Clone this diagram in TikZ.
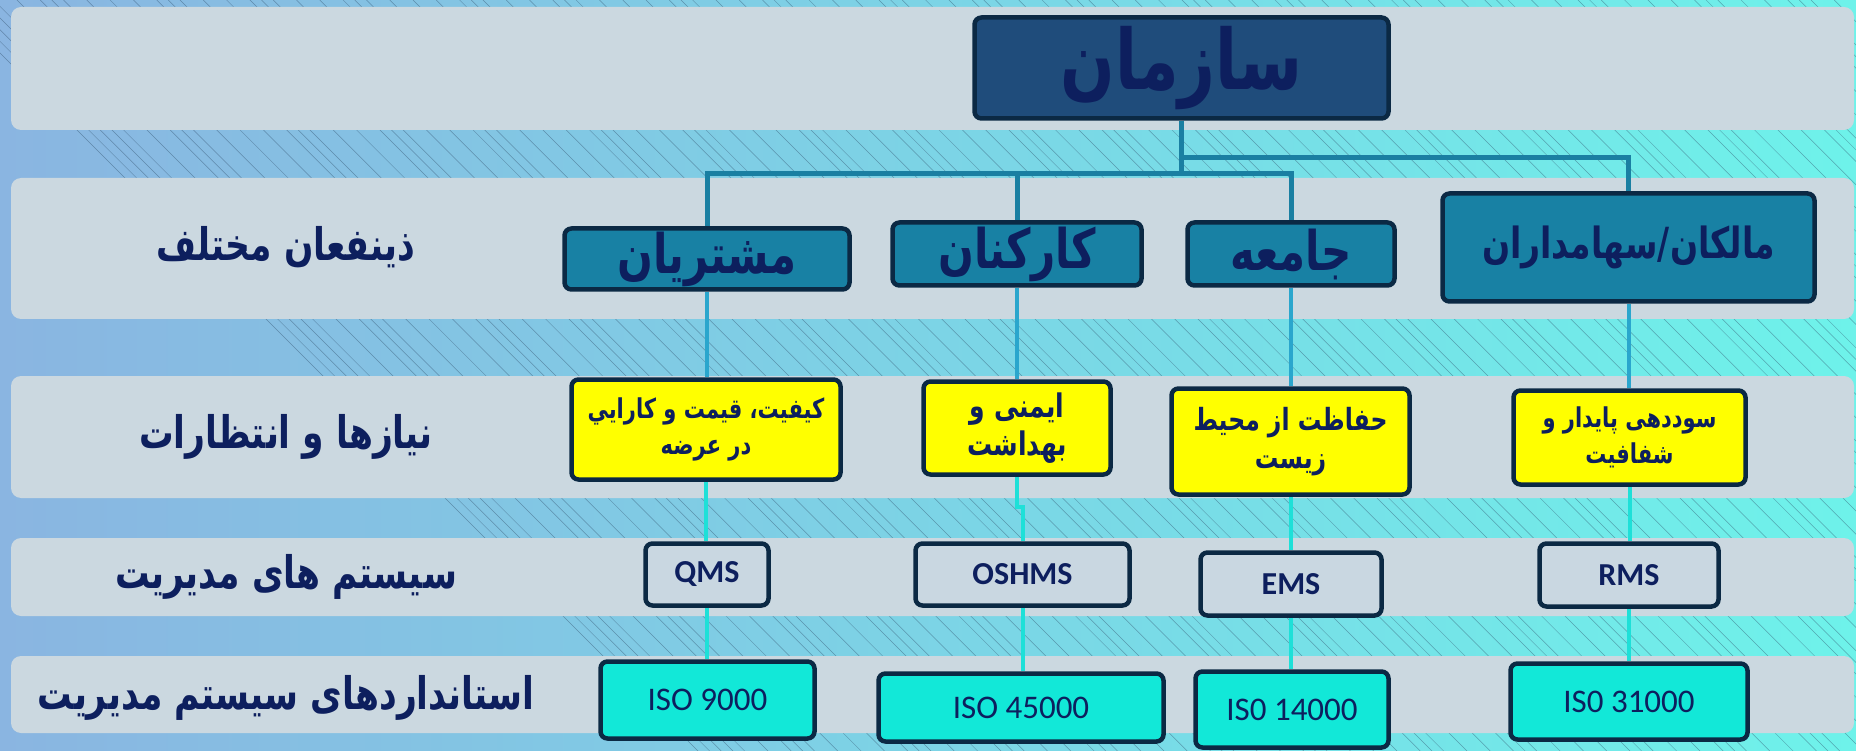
\documentclass[tikz,border=0pt]{standalone}
\usepackage{fontspec}
\usepackage{graphicx}
\TeXXeTstate=1
\newfontfamily\fafont[Script=Arabic]{DejaVu Sans}
\newfontfamily\latfont{Carlito}
% right-to-left run, set a little taller than the font's natural shape
\newcommand\rtltext[1]{\scalebox{1}[1.3]{\beginR #1\endR}}

\definecolor{bgleft}{HTML}{8AB5E1}
\definecolor{bgright}{HTML}{6EF2EA}
\definecolor{bandc}{HTML}{CBD8E0}
\definecolor{edgec}{HTML}{0B2944}
\definecolor{navyc}{HTML}{0D1F5E}
\definecolor{orgc}{HTML}{1F4C7B}
\definecolor{stakec}{HTML}{1881A4}
\definecolor{needc}{HTML}{FFFF00}
\definecolor{sysc}{HTML}{C9D7E1}
\definecolor{isoc}{HTML}{12E8D8}
\definecolor{toplink}{HTML}{1A7FA2}
\definecolor{midlink}{HTML}{2AA6CD}
\definecolor{lowlink}{HTML}{1EE0D8}
\definecolor{hatchc}{HTML}{2E4A66}

\pgfdeclarelayer{backdrop}
\pgfdeclarelayer{links}
\pgfsetlayers{backdrop,links,main}

\tikzset{
  band/.style={fill=bandc, rounded corners=10pt},
  hatch/.style={draw=hatchc, line width=0.5pt, opacity=0.45},
  box/.style={draw=edgec, line width=4.5pt, rounded corners=7pt, inner sep=0pt, text=navyc},
  orgbox/.style={box, fill=orgc, font=\fafont\bfseries\fontsize{64}{76}\selectfont},
  stakebox/.style={box, fill=stakec, font=\fafont\bfseries\fontsize{42}{50}\selectfont},
  needbox/.style={box, fill=needc, align=center, font=\fafont\bfseries\fontsize{21}{36}\selectfont},
  sysbox/.style={box, fill=sysc, font=\latfont\bfseries\fontsize{32}{38}\selectfont},
  isobox/.style={box, fill=isoc, font=\latfont\fontsize{33}{38}\selectfont},
  rowlabel/.style={text=navyc, font=\fafont\bfseries\fontsize{34.5}{40}\selectfont},
  toplinkst/.style={draw=toplink, line width=5pt},
  midlinkst/.style={draw=midlink, line width=4pt},
  lowlinkst/.style={draw=lowlink, line width=4pt},
}

\begin{document}
\begin{tikzpicture}[x=1pt,y=-1pt]
\useasboundingbox (0,0) rectangle (1856,751);

\begin{pgfonlayer}{backdrop}
% background with diagonal hatching
\shade[left color=bgleft, right color=bgright] (0,0) rectangle (1856,751);
\begin{scope}
  \clip (0,0) rectangle (1856,751);
  \foreach \i in {0,...,82}{
    \pgfmathsetmacro\c{-53+23.3*\i}
    \draw[hatch] (\c,0) -- ++(751,751);
  }
  \foreach \i in {0,1,4,9,13,17,22,26,31,35,40,44,48,53,57,62,66,70,75,79}{
    \pgfmathsetmacro\c{-53+11.6+23.3*\i}
    \draw[hatch] (\c,0) -- ++(751,751);
  }
\end{scope}

% horizontal bands
\fill[band] (11,7) rectangle (1854,130);
\fill[band] (11,178) rectangle (1854,319);
\fill[band] (11,376) rectangle (1854,498);
\fill[band] (11,538) rectangle (1854,616);
\fill[band] (11,656) rectangle (1854,733);
\end{pgfonlayer}

% row labels
\node[rowlabel] (lab1) at (286,247) {\rtltext{ذینفعان مختلف}};
\node[rowlabel] (lab2) at (286,437) {\rtltext{نیازها و انتظارات}};
\node[rowlabel] (lab3) at (286,577) {\rtltext{سیستم های مدیریت}};
\node[rowlabel] (lab4) at (286,698) {\rtltext{استانداردهای سیستم مدیریت}};

% organisation
\node[orgbox, minimum width=414pt, minimum height=101pt] (org) at (1181.5,68) {\rtltext{سازمان}};

% stakeholders
\node[stakebox, minimum width=285pt, minimum height=61pt] (cust) at (707,259) {\rtltext{مشتریان}};
\node[stakebox, minimum width=249pt, minimum height=63pt] (staff) at (1017,254) {\rtltext{کارکنان}};
\node[stakebox, minimum width=207pt, minimum height=63pt] (soc) at (1291,254) {\rtltext{جامعه}};
\node[stakebox, minimum width=372pt, minimum height=108pt, font=\fafont\bfseries\fontsize{33}{40}\selectfont] (own) at (1628.5,247.5) {\rtltext{مالکان/سهامداران}};

% needs and expectations
\node[needbox, minimum width=269pt, minimum height=100pt] (n1) at (706,429.5) {\rtltext{کیفیت، قیمت و کارايي}\\\rtltext{در عرضه}};
\node[needbox, minimum width=187pt, minimum height=93pt, font=\fafont\bfseries\fontsize{25}{38}\selectfont] (n2) at (1017,428) {\rtltext{ایمنی و}\\\rtltext{بهداشت}};
\node[needbox, minimum width=238pt, minimum height=106pt, font=\fafont\bfseries\fontsize{23.5}{38}\selectfont] (n3) at (1290.5,441.5) {\rtltext{حفاظت از محیط}\\\rtltext{زیست}};
\node[needbox, minimum width=232pt, minimum height=94pt] (n4) at (1629.5,437.5) {\rtltext{سوددهی پایدار و}\\\rtltext{شفافیت}};

% management systems
\node[sysbox, minimum width=123pt, minimum height=62pt] (qms) at (707,574.5) {QMS};
\node[sysbox, minimum width=214pt, minimum height=62pt] (oshms) at (1022.5,574.5) {OSHMS};
\node[sysbox, minimum width=181pt, minimum height=63pt] (ems) at (1291,584) {EMS};
\node[sysbox, minimum width=179pt, minimum height=63pt] (rms) at (1629,575) {RMS};

% standards
\node[isobox, minimum width=214pt, minimum height=77pt] (iso1) at (707.5,700) {ISO 9000};
\node[isobox, minimum width=285pt, minimum height=68pt] (iso2) at (1021,707.5) {ISO 45000};
\node[isobox, minimum width=193pt, minimum height=76pt] (iso3) at (1292,709.5) {IS0 14000};
\node[isobox, minimum width=237pt, minimum height=76pt] (iso4) at (1629,701.5) {IS0 31000};

% connectors, kept behind the boxes
\begin{pgfonlayer}{links}
  % organisation to stakeholders
  \draw[toplinkst] (org.south) -- ++(0,37) -| (own.north);
  \draw[toplinkst] (org.south) -- ++(0,53) coordinate (hub) -| (cust.north);
  \draw[toplinkst] (hub) -| (staff.north);
  \draw[toplinkst] (hub) -| (soc.north);
  % stakeholders to needs
  \draw[midlinkst] (cust.south) -- (cust.south |- n1.north);
  \draw[midlinkst] (staff.south) -- (n2.north);
  \draw[midlinkst] (soc.south) -- (soc.south |- n3.north);
  \draw[midlinkst] (own.south) -- (own.south |- n4.north);
  % needs to management systems
  \draw[lowlinkst] (n1.south) -- (n1.south |- qms.north);
  \draw[lowlinkst] (n2.south) -- ++(0,30) -| (oshms.north);
  \draw[lowlinkst] (n3.south) -- (n3.south |- ems.north);
  \draw[lowlinkst] (n4.south) -- (n4.south |- rms.north);
  % management systems to standards
  \draw[lowlinkst] (qms.south) -- (qms.south |- iso1.north);
  \draw[lowlinkst] (oshms.south) -- (oshms.south |- iso2.north);
  \draw[lowlinkst] (ems.south) -- (ems.south |- iso3.north);
  \draw[lowlinkst] (rms.south) -- (rms.south |- iso4.north);
\end{pgfonlayer}
\end{tikzpicture}
\end{document}
